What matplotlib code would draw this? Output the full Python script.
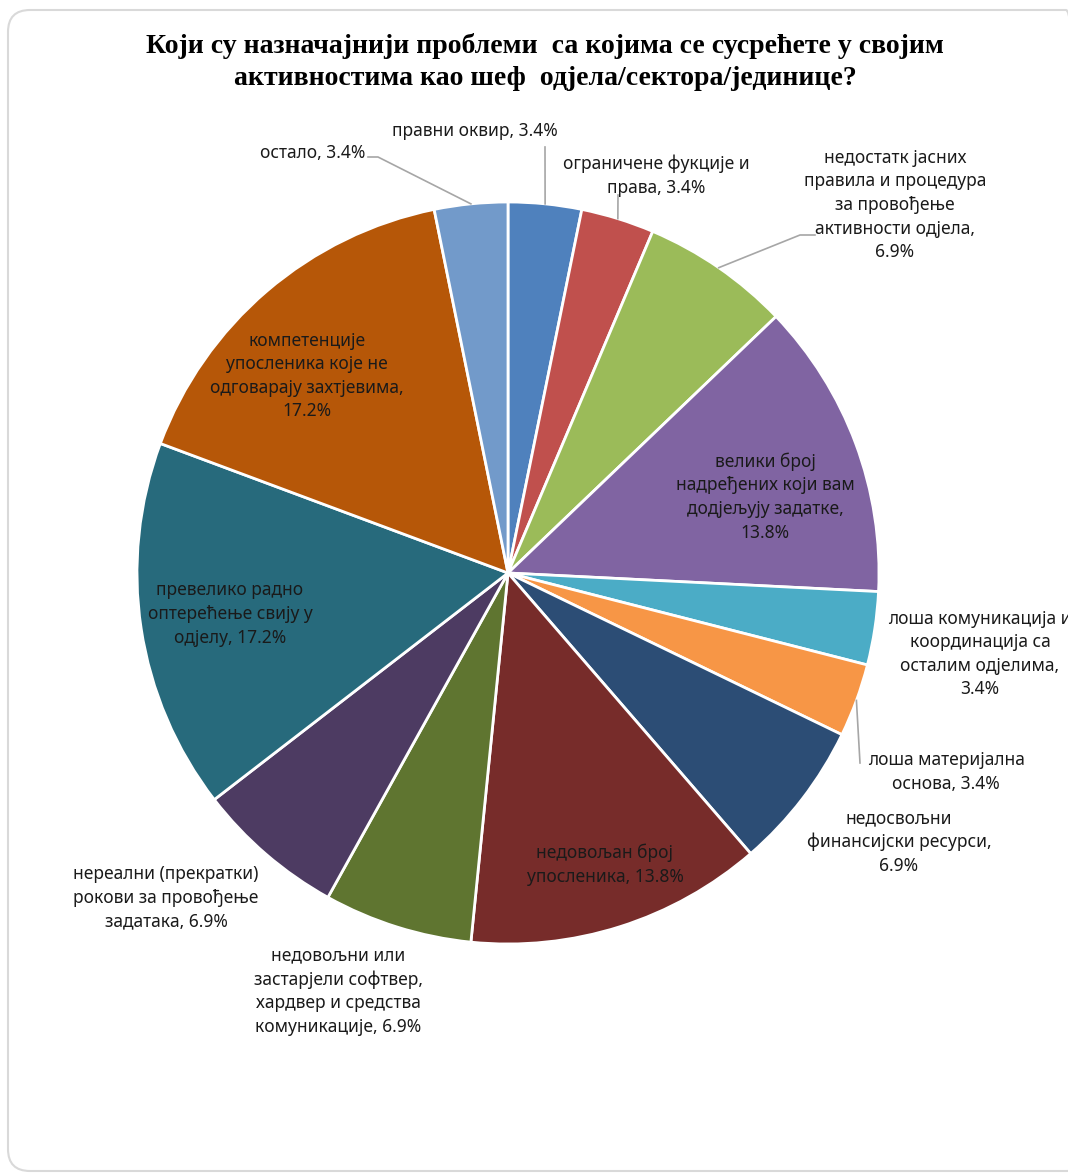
import numpy as np
import matplotlib.pyplot as plt
from matplotlib.patches import FancyBboxPatch
from matplotlib.transforms import IdentityTransform

# Одговори (проценат испитаника), редом у смјеру казаљке од врха
labels = [
    "правни оквир",
    "ограничене фукције и\nправа",
    "недостатк јасних\nправила и процедура\nза провођење\nактивности одјела,",
    "велики број\nнадређених који вам\nдодјељују задатке,",
    "лоша комуникација и\nкоординација са\nосталим одјелима,",
    "лоша материјална\nоснова",
    "недосвољни\nфинансијски ресурси,",
    "недовољан број\nупосленика",
    "недовољни или\nзастарјели софтвер,\nхардвер и средства\nкомуникације",
    "нереални (прекратки)\nрокови за провођење\nзадатака",
    "превелико радно\nоптерећење свију у\nодјелу",
    "компетенције\nупосленика које не\nодговарају захтјевима,",
    "остало",
]
values = [3.4, 3.4, 6.9, 13.8, 3.4, 3.4, 6.9, 13.8, 6.9, 6.9, 17.2, 17.2, 3.4]
colors = ["#4F81BD", "#C0504D", "#9BBB59", "#8064A2", "#4BACC6", "#F79646",
          "#2C4D75", "#772C2A", "#5F7530", "#4D3B62", "#276A7C", "#B65708",
          "#729ACA"]

W, H = 1068, 1173
CX, CY, R = 508, 573, 371


def px(x, y):
    return (x - CX) / R, (CY - y) / R


# положај натписа (центар блока) у пикселима
label_pos = [(475, 131), (656, 176), (895, 205), (765, 497), (980, 654),
             (946, 772), (899, 842), (605, 865), (338, 991), (166, 898),
             (230, 614), (307, 376), (313, 153)]
# водеће линије: преломне тачке послије тачке на ивици исјечка
leaders = {0: [(545, 147)], 1: [(618, 195)], 2: [(800, 235), (815, 235)],
           5: [(860, 763)], 12: [(378, 157), (368, 157)]}

fig = plt.figure(figsize=(W / 100, H / 100), dpi=100)
fig.patch.set_facecolor("white")
fig.add_artist(FancyBboxPatch((8, 2), 1080, 1161, transform=IdentityTransform(),
                              boxstyle="round,pad=0,rounding_size=22",
                              facecolor="none", edgecolor="#D9D9D9", lw=1.5,
                              zorder=-1))

ax = fig.add_axes([(CX - R) / W, (H - CY - R) / H, 2 * R / W, 2 * R / H])
wedges, _ = ax.pie(values, colors=colors, startangle=90, counterclock=False,
                   radius=1, wedgeprops=dict(edgecolor="white", linewidth=2))
ax.set_xlim(-1, 1)
ax.set_ylim(-1, 1)
ax.axis("off")

for i, (lab, v) in enumerate(zip(labels, values)):
    sep = "\n" if lab.endswith(",") else ", "
    text = f"{lab}{sep}{v}%"
    tx, ty = px(*label_pos[i])
    ax.text(tx, ty, text, ha="center", va="center", fontsize=12.5,
            family=["Noto Sans", "DejaVu Sans"], color="#1a1a1a",
            linespacing=1.4)
    if i in leaders:
        w = wedges[i]
        mid = np.deg2rad((w.theta1 + w.theta2) / 2)
        xs = [np.cos(mid)] + [px(*p)[0] for p in leaders[i]]
        ys = [np.sin(mid)] + [px(*p)[1] for p in leaders[i]]
        ax.plot(xs, ys, color="#A6A6A6", lw=1.2, clip_on=False)

fig.text(545 / W, 1 - 62 / H,
         "Који су назначајнији проблеми  са којима се сусрећете у својим\n"
         "активностима као шеф  одјела/сектора/јединице?",
         ha="center", va="center", fontsize=20, fontweight="bold",
         family="Liberation Serif", linespacing=1.35)

fig.savefig("out.png", dpi=100)
